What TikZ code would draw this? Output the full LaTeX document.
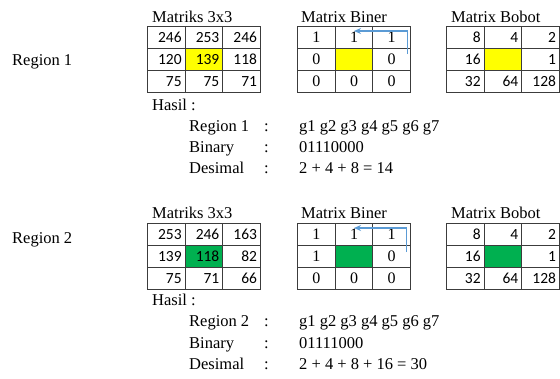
\documentclass[tikz,border=0pt]{standalone}
\usepackage{fontspec}
\setmainfont{Liberation Serif}
\newfontfamily\numfont{Carlito}
\usetikzlibrary{arrows.meta}

\definecolor{gridline}{HTML}{3C3C3C}
\definecolor{flowblue}{HTML}{5B9BD5}
\definecolor{cellyellow}{HTML}{FFFF00}
\definecolor{cellgreen}{HTML}{00B050}

\tikzset{
  cell/.style={draw=gridline, line width=1pt, minimum width=37.67pt, minimum height=22pt, inner sep=0pt, anchor=north west},
  numcell/.style={cell, font=\numfont\fontsize{15.5}{18}\selectfont, text width=30.67pt, align=right},
  bincell/.style={cell, font=\fontsize{16}{18}\selectfont},
  txt/.style={anchor=base west, inner sep=0pt, font=\fontsize{16.5}{19}\selectfont},
  flow/.style={draw=flowblue, line width=1.2pt, -{Stealth[length=7pt,width=6pt]}}
}

\begin{document}
\begin{tikzpicture}[x=1pt, y=-1pt]
\useasboundingbox (0,0) rectangle (560,378);

% grids: name / left / top / cell style / highlight / values
\foreach \name/\gx/\gy/\sty/\hl/\vals in {
    ma1/147/26/numcell/cellyellow/{{246,253,246},{120,139,118},{75,75,71}},
    mb1/297/26/bincell/cellyellow/{{1,1,1},{0,,0},{0,0,0}},
    mc1/446/26/numcell/cellyellow/{{8,4,2},{16,,1},{32,64,128}},
    ma2/147/223/numcell/cellgreen/{{253,246,163},{139,118,82},{75,71,66}},
    mb2/297/223/bincell/cellgreen/{{1,1,1},{1,,0},{0,0,0}},
    mc2/446/223/numcell/cellgreen/{{8,4,2},{16,,1},{32,64,128}}} {
  \foreach \row [count=\r] in \vals {
    \foreach \v [count=\c] in \row {
      \ifnum\r\c=22 \def\cellbg{\hl}\else\def\cellbg{none}\fi
      \node[\sty, fill=\cellbg] (\name-\r\c) at ({\gx+37.67*(\c-1)}, {\gy+22*(\r-1)}) {\v};
    }
  }
}

% Region 1
\node[txt] (reg1) at (12,65) {Region 1};
\node[txt] (ta1) at (152,22) {Matriks 3x3};
\node[txt] (tb1) at (301,22) {Matrix Biner};
\node[txt] (tc1) at (451,22) {Matrix Bobot};
\draw[flow] ([xshift=-3.5pt, yshift=-6pt]mb1-23.north east) |- ([yshift=-5pt]mb1-12.north);

\node[txt] (hasil1) at (152,110) {Hasil :};
\node[txt] (rn1) at (189,131.5) {Region 1};
\node[txt] (rc1) at (264,131.5) {:};
\node[txt] (rv1) at (299,131.5) {g1 g2 g3 g4 g5 g6 g7};
\node[txt] (bn1) at (189,152.5) {Binary};
\node[txt] (bc1) at (264,152.5) {:};
\node[txt] (bv1) at (299,152.5) {01110000};
\node[txt] (dn1) at (189,173.5) {Desimal};
\node[txt] (dc1) at (264,173.5) {:};
\node[txt] (dv1) at (299,173.5) {2 + 4 + 8 = 14};

% Region 2
\node[txt] (reg2) at (12,243) {Region 2};
\node[txt] (ta2) at (152,218) {Matriks 3x3};
\node[txt] (tb2) at (301,218) {Matrix Biner};
\node[txt] (tc2) at (451,218) {Matrix Bobot};
\draw[flow] ([xshift=-4.5pt, yshift=-7pt]mb2-23.north east) |- ([yshift=-5pt]mb2-12.north);

\node[txt] (hasil2) at (152,305) {Hasil :};
\node[txt] (rn2) at (189,326.5) {Region 2};
\node[txt] (rc2) at (264,326.5) {:};
\node[txt] (rv2) at (299,326.5) {g1 g2 g3 g4 g5 g6 g7};
\node[txt] (bn2) at (189,348) {Binary};
\node[txt] (bc2) at (264,348) {:};
\node[txt] (bv2) at (299,348) {01111000};
\node[txt] (dn2) at (189,369.5) {Desimal};
\node[txt] (dc2) at (264,369.5) {:};
\node[txt] (dv2) at (299,369.5) {2 + 4 + 8 + 16 = 30};

\end{tikzpicture}
\end{document}
